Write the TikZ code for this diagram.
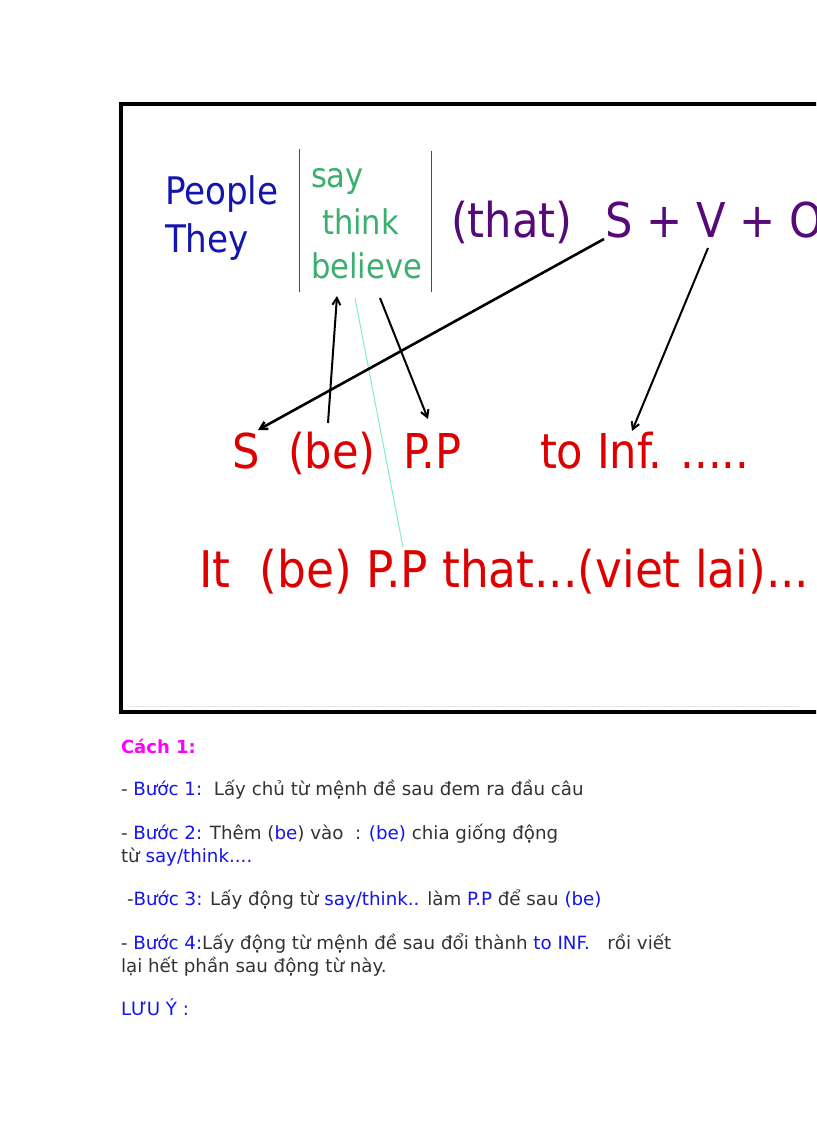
\documentclass[tikz,border=0pt]{standalone}
\usepackage{fontspec}
\setmainfont{DejaVu Sans}
\newfontfamily\diag{DejaVu Sans Condensed}
\usetikzlibrary{arrows.meta}
\definecolor{pblue}{RGB}{20,20,175}
\definecolor{pgreen}{RGB}{60,175,110}
\definecolor{ppurple}{RGB}{85,10,120}
\definecolor{pred}{RGB}{222,0,0}
\definecolor{bodygray}{RGB}{51,51,51}
\definecolor{stepblue}{RGB}{20,20,235}
\definecolor{pmagenta}{RGB}{255,0,255}
\definecolor{cyanline}{RGB}{130,235,210}
\newcommand{\bl}[1]{\textcolor{stepblue}{#1}}
\begin{document}
\begin{tikzpicture}[x=1pt,y=-1pt,
  txt/.style={anchor=base west,inner sep=0pt,outer sep=0pt},
  subj/.style={txt,font=\diag\fontsize{38}{38}\selectfont,text=pblue},
  verb/.style={txt,font=\diag\fontsize{34}{34}\selectfont,text=pgreen},
  clause/.style={txt,font=\diag\fontsize{48}{48}\selectfont,text=ppurple},
  redrow/.style={txt,font=\diag\fontsize{48}{48}\selectfont,text=pred},
  body/.style={txt,font=\fontsize{18.25}{18.25}\selectfont,text=bodygray},
  arr/.style={-{Straight Barb[length=7pt,width=8pt]},line width=2pt,black},
  bar/.style={line width=0.8pt,draw=black!70}]
\useasboundingbox (0,0) rectangle (816,1123);
\clip (0,0) rectangle (816,1123);
\fill[white] (0,0) rectangle (816,1123);
% frame
\draw[line width=4pt] (840,104) -- (121,104) -- (121,712) -- (840,712);
\draw[gray!25,densely dotted,line width=0.5pt] (128,706) -- (800,706);
% top row
\node[subj] (people) at (165,205) {People};
\node[subj] (they) at (165,252) {They};
\draw[bar] (299,149) coordinate (b1t) -- (299,292) coordinate (b1b);
\draw[bar] (431,151) coordinate (b2t) -- (431,292) coordinate (b2b);
\node[verb] (say) at (311,188) {say};
\node[verb] (think) at (322,234) {think};
\node[verb] (believe) at (311,278) {believe};
\node[clause] (that) at (451,237) {(that)};
\node[clause] (svo) at (605,237) {S + V + O};
% red row
\node[redrow] (rs) at (232,468) {S};
\node[redrow] (rbe) at (288,468) {(be)};
\node[redrow] (rpp) at (403,468) {P.P};
\node[redrow] (rinf) at (540,468) {to Inf. .....};
\node[txt,font=\diag\fontsize{50.5}{50.5}\selectfont,text=pred] (itline) at (199,587) {It\hspace{0.3em} (be) P.P that...(viet lai)...};
% connector end points
\coordinate (sTop) at (604,239);
\coordinate (sEnd) at (258,430);
\coordinate (beTop) at (328,423);
\coordinate (beEnd) at (337,296);
\coordinate (blStart) at (380,298);
\coordinate (ppEnd) at (428,419);
\coordinate (vStart) at (708,248);
\coordinate (infEnd) at (632,431);
\coordinate (cyStart) at (355,298);
\coordinate (cyEnd) at (403,547);
\draw[cyanline,line width=1pt] (cyStart) -- (cyEnd);
\draw[arr,line width=2.6pt] (sTop) -- (sEnd);
\draw[arr] (beTop) -- (beEnd);
\draw[arr] (blStart) -- (ppEnd);
\draw[arr] (vStart) -- (infEnd);
% lower text
\node[txt,font=\bfseries\fontsize{18}{18}\selectfont,text=pmagenta] (cach) at (121,753) {Cách 1:};
\node[body] (l1) at (121,795) {- \bl{Bước 1:}\ \ Lấy chủ từ mệnh đề sau đem ra đầu câu};
\node[body] (l2) at (121,839) {- \bl{Bước 2:} Thêm (\bl{be}) vào\ \ : \bl{(be)} chia giống động};
\node[body] (l2b) at (121,862) {từ \bl{say/think....}};
\node[body] (l3) at (127,905) {-\bl{Bước 3:} Lấy động từ \bl{say/think..} làm \bl{P.P} để sau \bl{(be)}};
\node[body] (l4) at (121,949) {- \bl{Bước 4:}Lấy động từ mệnh đề sau đổi thành \bl{to INF.}\ \ \ rồi viết};
\node[body] (l4b) at (121,972) {lại hết phần sau động từ này.};
\node[body,text=stepblue] (luu) at (121,1015) {LƯU Ý :};
\end{tikzpicture}
\end{document}
